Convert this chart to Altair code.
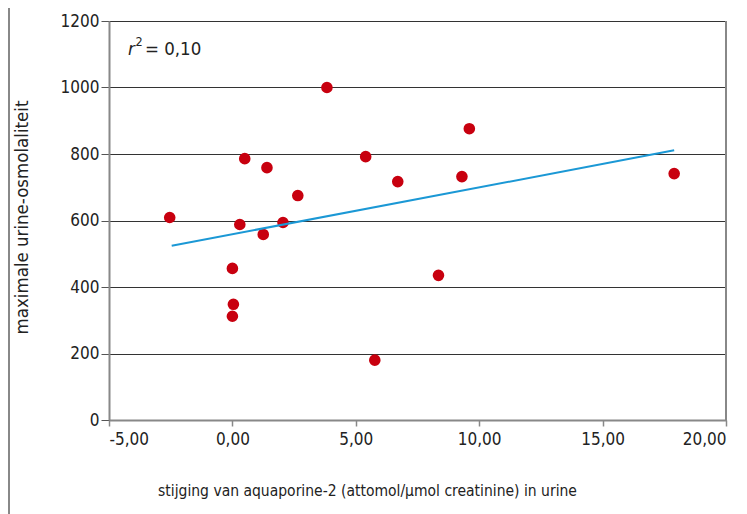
import altair as alt
import pandas as pd

# data
aqp2_increase = [-2.54, 0.0, 0.04, 0.0, 0.3, 0.5, 1.25, 1.4, 2.05, 2.65,
                 3.83, 5.4, 5.77, 6.7, 8.35, 9.3, 9.6, 17.9]
max_osmolality = [609, 456, 348, 312, 588, 786, 558, 759, 594, 675,
                  1000, 792, 180, 717, 435, 732, 876, 741]

# fitted line as drawn in the reference (end points)
trend_x = [-2.46, 17.9]
trend_y = [524, 811]

x_ticks = [-5, 0, 5, 10, 15, 20]
y_ticks = [0, 200, 400, 600, 800, 1000, 1200]

df = pd.DataFrame({"x": aqp2_increase, "y": max_osmolality})
df_trend = pd.DataFrame({"x": trend_x, "y": trend_y})

FONT = "DejaVu Sans Condensed, Roboto Condensed, Roboto, sans-serif"
TXT = "#222"

xscale = alt.Scale(domain=[-5, 20], nice=False, zero=False)
yscale = alt.Scale(domain=[0, 1200], nice=False)

x_enc = alt.X(
    "x:Q", scale=xscale,
    axis=alt.Axis(
        values=x_ticks, grid=False,
        title="stijging van aquaporine-2 (attomol/µmol creatinine) in urine",
        titleX=258, titleY=75, titleBaseline="alphabetic",
        titleFontSize=15.5, titleFontWeight="normal",
        titleFont=FONT, titleColor=TXT,
        labelExpr="replace(replace(format(datum.value, '.2f'), '.', ','), '−', '-')",
        labelFont=FONT, labelFontSize=17, labelColor=TXT, labelPadding=5,
        labelFlush=True,
        tickSize=6, tickColor="#888", tickWidth=1.5,
        domainColor="#888", domainWidth=2,
    ),
)
y_enc = alt.Y(
    "y:Q", scale=yscale,
    axis=alt.Axis(
        values=y_ticks, grid=True, gridColor="#333", gridWidth=1,
        format="d",
        title="maximale urine-osmolaliteit",
        titleX=-78, titleY=196,
        titleFontSize=18.5, titleFontWeight="normal",
        titleFont=FONT, titleColor=TXT,
        labelFont=FONT, labelFontSize=17, labelColor=TXT, labelPadding=2,
        tickSize=8, tickColor="#555", tickWidth=1,
        domainColor="#888", domainWidth=2,
    ),
)

points = alt.Chart(df).mark_circle(size=135, opacity=1, color="#c8000f").encode(
    x=x_enc, y=y_enc
)

trend = alt.Chart(df_trend).mark_line(color="#1b98d5", strokeWidth=2).encode(
    x="x:Q", y="y:Q"
)

right_border = alt.Chart(pd.DataFrame({"x": [20]})).mark_rule(
    color="#888", strokeWidth=2
).encode(x="x:Q", y=alt.value(0), y2=alt.value(399))

frame_left = alt.Chart(pd.DataFrame({"a": [0]})).mark_rule(
    color="#888", strokeWidth=2
).encode(x=alt.value(-100), y=alt.value(-13), y2=alt.value(500))

r_txt = alt.Chart(pd.DataFrame({"t": ["r"]})).mark_text(
    font=FONT, fontSize=18.5, fontStyle="italic", align="left", baseline="alphabetic", color=TXT
).encode(text="t:N", x=alt.value(19), y=alt.value(34))
sup_txt = alt.Chart(pd.DataFrame({"t": ["2"]})).mark_text(
    font=FONT, fontSize=12.5, align="left", baseline="alphabetic", color=TXT
).encode(text="t:N", x=alt.value(26.5), y=alt.value(25))
eq_txt = alt.Chart(pd.DataFrame({"t": ["= 0,10"]})).mark_text(
    font=FONT, fontSize=18.5, align="left", baseline="alphabetic", color=TXT
).encode(text="t:N", x=alt.value(36), y=alt.value(34))

chart = alt.layer(points, trend, right_border, frame_left, r_txt, sup_txt, eq_txt).properties(
    width=617, height=399,
    autosize=alt.AutoSizeParams(type="none"),
    padding={"left": 101, "top": 13, "right": 12, "bottom": 94},
).configure_view(stroke=None).configure(background="white")

chart.save("out.html", embed_options={"renderer": "svg", "actions": False})
